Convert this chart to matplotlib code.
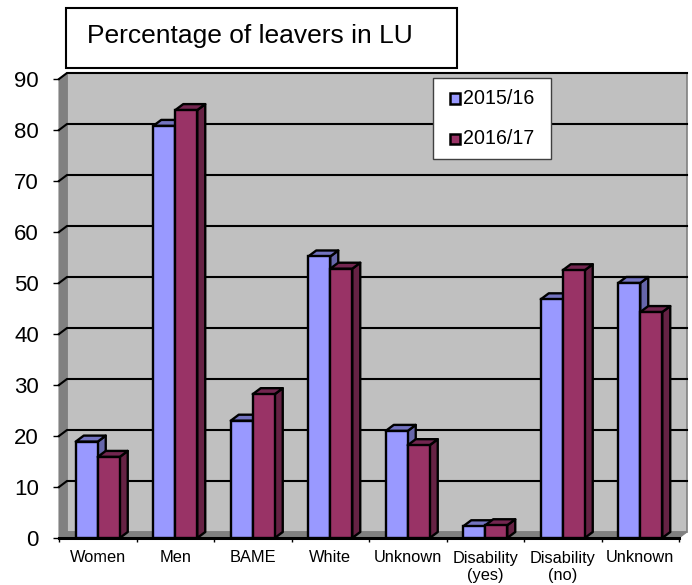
import matplotlib
matplotlib.use('Agg')
import matplotlib.pyplot as plt
from matplotlib.patches import Polygon, Rectangle

plt.rcParams['font.family'] = ['Liberation Sans', 'DejaVu Sans']

# Values
categories = ['Women', 'Men', 'BAME', 'White', 'Unknown', 'Disability\n(yes)', 'Disability\n(no)', 'Unknown']
values_1516 = [18.9, 80.8, 23.0, 55.2, 21.0, 2.3, 46.8, 50.0]
values_1617 = [15.9, 83.9, 28.2, 52.8, 18.2, 2.5, 52.5, 44.3]
y_ticks = [0, 10, 20, 30, 40, 50, 60, 70, 80, 90]

W, H = 692, 585
fig = plt.figure(figsize=(W / 100, H / 100), dpi=100)

# front plane of the fake 3D box
left, right, bottom, top = 59, 679, 538, 79
ax = fig.add_axes([left / W, 1 - bottom / H, (right - left) / W, (bottom - top) / H])
ax.set_xlim(0, len(categories))
ax.set_ylim(0, 90)
ax.patch.set_visible(False)
for s in ax.spines.values():
    s.set_visible(False)

# depth of the box, in data units
px_x = len(categories) / (right - left)
px_y = 90 / (bottom - top)
dx_wall, dy_wall = 8 * px_x, 6 * px_y
dx_bar, dy_bar = 8 * px_x, 6 * px_y


def poly(pts, fc, z, ec='black', lw=1.7):
    ax.add_patch(Polygon(pts, closed=True, fc=fc, ec=ec, lw=lw, zorder=z, clip_on=False,
                         joinstyle='round'))


n = len(categories)
# back wall, side wall, floor
ax.add_patch(Rectangle((dx_wall, dy_wall), n, 90, fc='#C0C0C0', ec='#808080', lw=1.2,
                       zorder=0, clip_on=False))
poly([(0, 0), (dx_wall, dy_wall), (dx_wall, 90 + dy_wall), (0, 90)], '#808080', 1, ec='#808080', lw=0.8)
poly([(0, 0), (dx_wall, dy_wall), (n + dx_wall, dy_wall), (n, 0)], '#808080', 1, ec='#808080', lw=0.8)

# grid lines on the wall, with the slanted bit on the side wall
for v in y_ticks[1:]:
    ax.plot([0, dx_wall, n + dx_wall], [v, v + dy_wall, v + dy_wall], color='black', lw=1.5,
            zorder=1.5, clip_on=False, solid_joinstyle='miter')
ax.plot([0, n], [0, 0], color='black', lw=2.2, zorder=2, clip_on=False)

# bars
bar_w = 22 * px_x
series = [(values_1516, '#9999FF', '#6666AA', '#7373C0', 0.5 - bar_w, 3, '2015/16'),
          (values_1617, '#993366', '#662244', '#732650', 0.5, 6, '2016/17')]
for vals, front, side, lid, off, z, name in series:
    xs = [i + off for i in range(n)]
    ax.bar(xs, vals, width=bar_w, align='edge', color=front, edgecolor='black', linewidth=1.7,
           zorder=z + 1, clip_on=False, label=name)
    for x, v in zip(xs, vals):
        x2 = x + bar_w
        poly([(x2, 0), (x2 + dx_bar, dy_bar), (x2 + dx_bar, v + dy_bar), (x2, v)], side, z)
        poly([(x, v), (x + dx_bar, v + dy_bar), (x2 + dx_bar, v + dy_bar), (x2, v)], lid, z)

# axes
ax.set_yticks(y_ticks)
ax.set_xticks(range(n + 1))
ax.set_xticklabels([])
ax.tick_params(axis='y', length=4.5, width=1, labelsize=16, pad=10, color='black')
ax.tick_params(axis='x', length=3, width=1, color='black')
for i, c in enumerate(categories):
    ax.annotate(c, (i + 0.5, 0), xytext=(0, -9), textcoords='offset points',
                ha='center', va='top', fontsize=11.8, linespacing=1.2, annotation_clip=False)


# title box, figure pixels
def px_rect(x0, y0, x1, y1, **kw):
    fig.add_artist(Rectangle((x0 / W, 1 - y1 / H), (x1 - x0) / W, (y1 - y0) / H,
                             transform=fig.transFigure, **kw))


px_rect(65.5, 8, 457, 68, fc='white', ec='black', lw=1.5, zorder=10)
fig.text(87 / W, 1 - 36.5 / H, 'Percentage of leavers in LU', fontsize=19, ha='left', va='center', zorder=11)

# legend box
px_rect(433, 78, 551, 159, fc='white', ec='#404040', lw=1, zorder=10)
for (vals, front, side, lid, off, z, name), yy in zip(series, [98.5, 139]):
    px_rect(450, yy - 5, 460, yy + 5, fc=front, ec='black', lw=1.8, zorder=11)
    fig.text(463.5 / W, 1 - yy / H, name, fontsize=14.1, ha='left', va='center', zorder=11)

fig.savefig('out.png', dpi=100)
